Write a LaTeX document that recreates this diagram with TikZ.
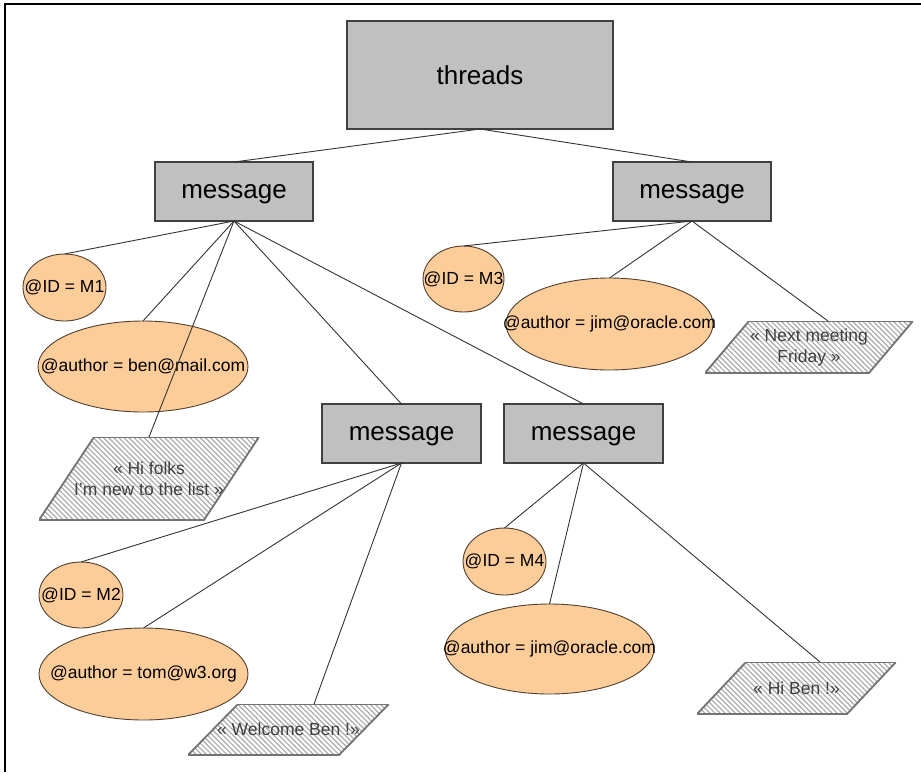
\documentclass[tikz,border=0pt]{standalone}
\usepackage{fontspec}
\setmainfont{Liberation Sans}
\usetikzlibrary{shapes.geometric,patterns.meta,calc}
\definecolor{boxfill}{RGB}{192,192,192}
\definecolor{attrfill}{RGB}{252,204,153}
\definecolor{attrdraw}{RGB}{80,64,48}
\definecolor{hatch}{RGB}{170,170,170}
\newcommand{\zw}[1]{\makebox[0pt]{#1}}
\tikzset{poff/.store in=\poff, poff=40pt}
\begin{document}
\begin{tikzpicture}[x=1pt,y=-1pt,
  elem/.style={draw=black!75, fill=boxfill, line width=1.2pt, inner sep=0pt, outer sep=0pt, text depth=0pt, font=\fontsize{26}{30}\selectfont},
  attr/.style={ellipse, draw=attrdraw, fill=attrfill, line width=0.9pt, inner sep=0pt, outer sep=0pt, font=\fontsize{17.5}{21}\selectfont},
  txt/.style={rectangle, inner sep=0pt, outer sep=0pt, text=black!75, align=center, font=\fontsize{17.5}{21}\selectfont, poff=#1,
    path picture={\path[draw=black!55, line width=1.8pt,
        pattern={Lines[angle=-45,distance=3.6pt,line width=1.2pt]}, pattern color=hatch]
      ([xshift=\poff]path picture bounding box.north west) -- (path picture bounding box.north east)
      -- ([xshift=-\poff]path picture bounding box.south east) -- (path picture bounding box.south west) -- cycle;}},
  link/.style={draw=black!80, line width=0.9pt}]
\useasboundingbox (0,0) rectangle (921,772);
\draw[line width=2pt] (5,772) -- (5,4) -- (921,4);

% element boxes
\node[elem, minimum width=266, minimum height=108] (threads) at (480,75) {threads};
\node[elem, minimum width=158, minimum height=59] (ml) at (234,191.5) {message};
\node[elem, minimum width=158, minimum height=59] (mr) at (692,191.5) {message};
\node[elem, minimum width=159, minimum height=59] (mm) at (401.5,433.5) {message};
\node[elem, minimum width=159, minimum height=59] (mn) at (583.5,433.5) {message};

% attributes
\node[attr, minimum width=83, minimum height=67] (m1) at (64.5,287.5) {\zw{@ID = M1}};
\node[attr, minimum width=210, minimum height=91] (a1) at (143,366.5) {\zw{@author = ben@mail.com}};
\node[attr, minimum width=84, minimum height=66] (m2) at (81,595) {\zw{@ID = M2}};
\node[attr, minimum width=209, minimum height=92] (a2) at (143.5,674) {\zw{@author = tom@w3.org}};
\node[attr, minimum width=81, minimum height=66] (m3) at (463.5,279) {\zw{@ID = M3}};
\node[attr, minimum width=207, minimum height=92] (a3) at (609.5,324) {\zw{@author = jim@oracle.com}};
\node[attr, minimum width=83, minimum height=67] (m4) at (504.5,561.5) {\zw{@ID = M4}};
\node[attr, minimum width=209, minimum height=90] (a4) at (549.5,649) {\zw{@author = jim@oracle.com}};

% text contents
\node[txt=55pt, minimum width=220, minimum height=83] (hf) at (149,478.5) {« Hi folks\\I'm new to the list »};
\node[txt=50pt, minimum width=201, minimum height=51] (wb) at (288.5,729.5) {« Welcome Ben !»};
\node[txt=49pt, minimum width=199, minimum height=52] (hb) at (796.5,688) {« Hi Ben !»};
\node[txt=44pt, minimum width=208, minimum height=52] (nm) at (809,347) {« Next meeting\\Friday »};

% connectors
\draw[link] (threads.south) -- (ml.north);
\draw[link] (threads.south) -- (mr.north);
\draw[link] (ml.south) -- (m1.north);
\draw[link] (ml.south) -- (a1.north);
\draw[link] (ml.south) -- (hf.north);
\draw[link] (ml.south) -- (mm.north);
\draw[link] (ml.south) -- (mn.north);
\draw[link] (mr.south) -- (m3.north);
\draw[link] (mr.south) -- (a3.north);
\draw[link] (mr.south) -- ([xshift=19pt]nm.north);
\draw[link] (mm.south) -- (m2.north);
\draw[link] (mm.south) -- (a2.north);
\draw[link] (mm.south) -- ([xshift=25.5pt]wb.north);
\draw[link] (mn.south) -- (m4.north);
\draw[link] (mn.south) -- (a4.north);
\draw[link] (mn.south) -- ([xshift=23.5pt]hb.north);
\end{tikzpicture}
\end{document}
